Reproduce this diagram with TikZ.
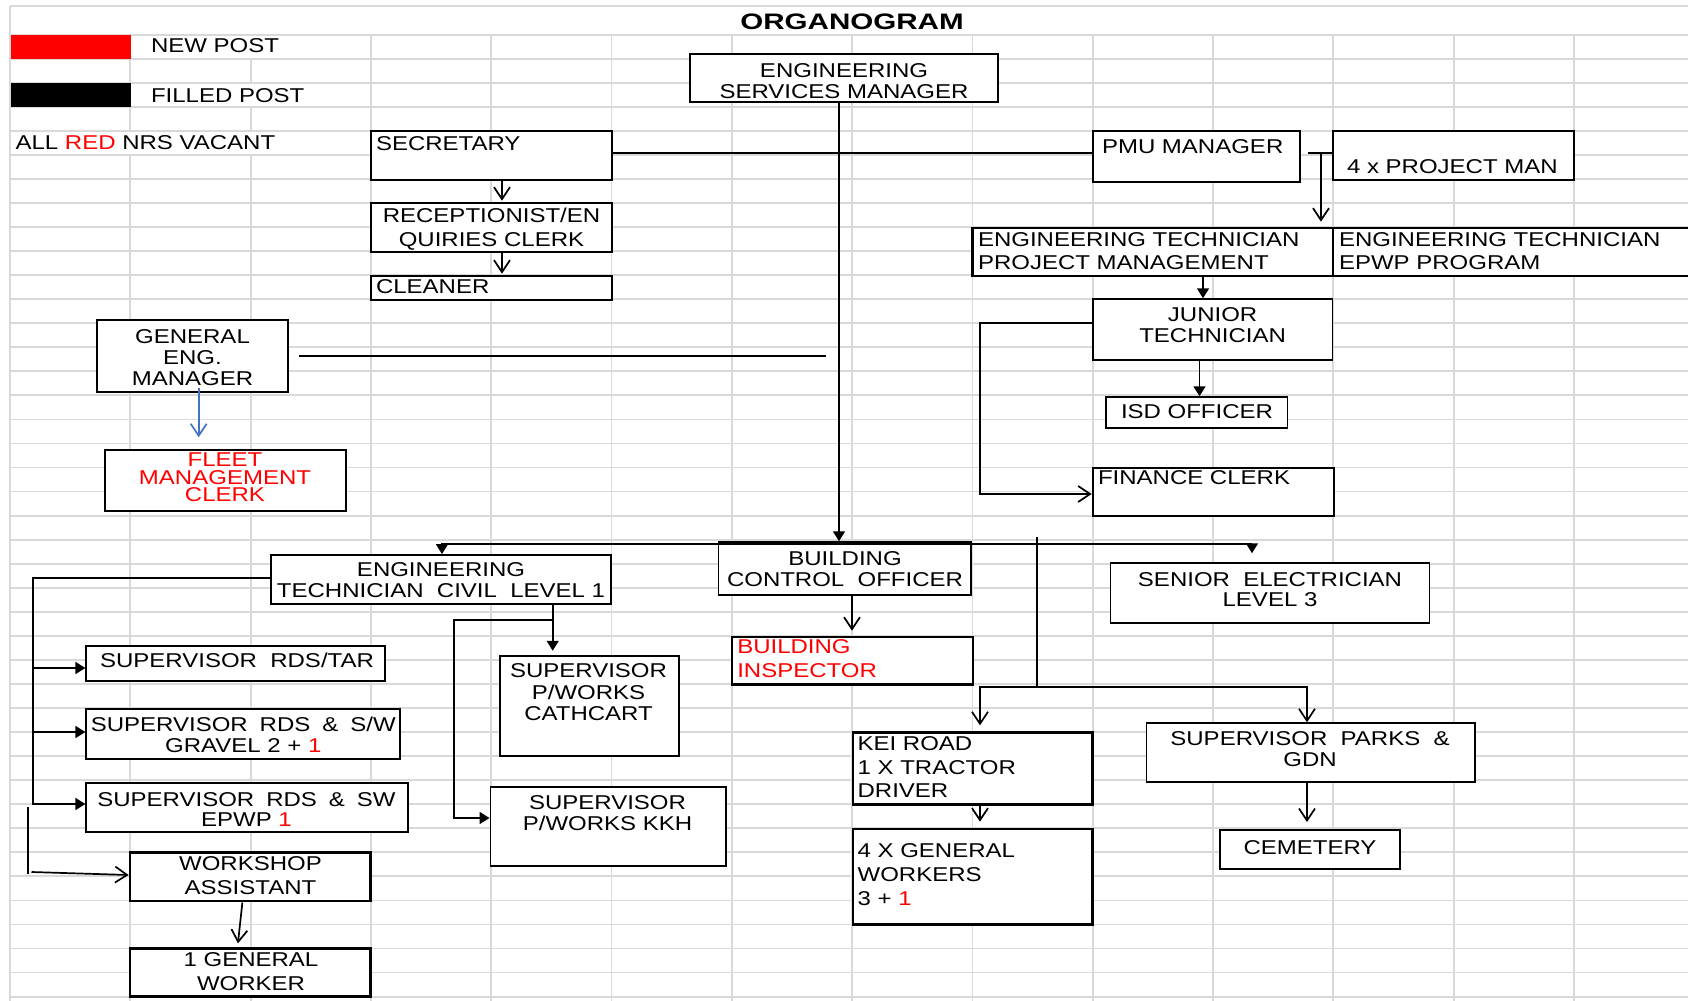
\documentclass[tikz,border=0pt]{standalone}
\usepackage{fontspec}
\setmainfont{Liberation Sans}[FakeStretch=1.2]
\usepackage{graphicx}
\usetikzlibrary{arrows.meta,fit}
\definecolor{gridgray}{RGB}{217,217,217}
\definecolor{postred}{RGB}{255,0,0}
\definecolor{linkblue}{RGB}{68,114,196}
\newcommand\lbfont{\fontsize{10pt}{12pt}\selectfont}
\newcommand\wsp{\hspace{6pt}}
\tikzset{
  gridline/.style={draw=gridgray, line width=0.9pt},
  boxthin/.style={draw, fill=white, line width=0.75pt, inner sep=0pt},
  boxmid/.style={draw, fill=white, line width=0.95pt, inner sep=0pt},
  boxthick/.style={draw, fill=white, line width=1.35pt, inner sep=0pt},
  lbl/.style={inner sep=0pt, outer sep=0pt, font=\lbfont, anchor=base},
  lbll/.style={lbl, anchor=base west},
  redtxt/.style={text=postred},
  link/.style={line width=0.85pt},
  fa/.style={link, -{Triangle[length=5pt,width=6pt]}},
  oa/.style={link, -{Straight Barb[length=6pt,width=8pt]}},
}
\begin{document}
\begin{tikzpicture}[x=0.5pt,y=-0.5pt]
\clip (0,0) rectangle (1688,1001);
\fill[white] (0,0) rectangle (1688,1001);

% spreadsheet grid
\draw[gridline] (10,6) -- (1688,6);
\foreach \k in {0,...,40} {
  \pgfmathsetmacro\yy{34.6+24.05*\k}
  \draw[gridline] (10,\yy) -- (1688,\yy);
}
\draw[gridline] (10,6) -- (10,1001);
\foreach \j in {3,...,13} {
  \pgfmathsetmacro\xx{10+120.3*\j}
  \draw[gridline] (\xx,34.6) -- (\xx,1001);
}
\draw[gridline] (130.3,34.6) -- (130.3,130.8) (130.3,154.85) -- (130.3,1001);
\draw[gridline] (250.6,58.65) -- (250.6,82.7) (250.6,106.75) -- (250.6,130.8)
                (250.6,154.85) -- (250.6,1001);

% legend
\fill[postred] (11,34.6) rectangle (131,59);
\fill[black] (11,82.7) rectangle (131,107);
\node[lbll] (newpost) at (151,53) {NEW POST};
\node[lbll] (filledpost) at (151,102) {FILLED POST};
\node[lbll] (vacant) at (15.6,149) {ALL \textcolor{postred}{RED} NRS VACANT};

% title
\node[lbl, font=\fontsize{11.2pt}{13pt}\selectfont\bfseries] (title) at (852,30)
  {\scalebox{1.1}[1]{ORGANOGRAM}};

% posts
\node[boxthin,  fit={(690,54) (998,102)}] (esm) {};
\node[boxthick, fit={(371,131) (612,180)}] (sec) {};
\node[boxthick, fit={(371,203) (612,252)}] (rec) {};
\node[boxthick, fit={(371,276) (612,300)}] (cln) {};
\node[boxthin,  fit={(1093,131) (1300,182)}] (pmu) {};
\node[boxthick, fit={(1333,131) (1574,180)}] (pm4) {};
\node[boxthick, fit={(972.5,228) (1333,276)}] (etpm) {};
\node[boxthick, fit={(1333,228) (1700,276)}] (etep) {};
\node[boxthin,  fit={(1093,299) (1332.5,360)}] (jun) {};
\node[boxthin,  fit={(1106,397) (1287.5,428)}] (isd) {};
\node[boxthick, fit={(1093,468) (1334,516)}] (fin) {};
\node[boxthin,  fit={(97,320) (288,392)}] (gem) {};
\node[boxthin,  fit={(105,450) (346,511)}] (flt) {};
\node[boxmid,   fit={(271,555) (611,604)}] (etc) {};
\node[boxthin,  fit={(718.6,542) (971,595)}] (bco) {};
\node[boxthin,  fit={(1110.7,563) (1429.6,623)}] (sen) {};
\node[boxthick, fit={(732,637) (973,684.3)}] (bin) {};
\node[boxmid,   fit={(86.3,645.7) (385.3,681)}] (tar) {};
\node[boxmid,   fit={(86.3,709) (400.4,758.7)}] (grv) {};
\node[boxmid,   fit={(86.3,782.7) (408,832)}] (epw) {};
\node[boxthick, fit={(130,852.7) (370.8,901)}] (wsa) {};
\node[boxthick, fit={(130,948.7) (370.8,996.7)}] (gw1) {};
\node[boxmid,   fit={(500,655.7) (678.6,755.7)}] (cat) {};
\node[boxmid,   fit={(490.5,787.3) (725.6,866)}] (kkh) {};
\node[boxthick, fit={(853,732.7) (1092.6,804.3)}] (kei) {};
\node[boxthick, fit={(853,829) (1092.6,924.3)}] (gw4) {};
\node[boxmid,   fit={(1146.5,723.3) (1475,781.7)}] (prk) {};
\node[boxmid,   fit={(1219.8,830) (1400.3,869.3)}] (cem) {};

% reporting lines
\draw[link] (sec.east |- 0,153) -- (pmu.west |- 0,153);
\draw[fa] (839,0 |- esm.south) -- (839,0 |- bco.north);
\draw[oa, shorten >=0.5pt] (502,0 |- sec.south) -- (502,0 |- rec.north);
\draw[oa, shorten >=0.5pt] (502,0 |- rec.south) -- (502,0 |- cln.north);
\draw[link] (pmu.east |- 0,153) ++(7,0) -- (pm4.west |- 0,153);
\coordinate (pmuknot) at (1321,153);
\draw[oa, shorten >=2.5pt] (pmuknot) -- (pmuknot |- etpm.north);
\draw[fa] (1203,0 |- etpm.south) -- (1203,0 |- jun.north);
\draw[fa] (1199.5,0 |- jun.south) -- (1199.5,0 |- isd.north);
\draw[oa] (jun.west |- 0,323) -| (980,494) -- (fin.west |- 0,494);
\draw[link] ([xshift=5pt]gem.east) -- ++(527,0);
\draw[link, draw=linkblue, -{Straight Barb[length=6pt,width=8pt]}, shorten >=6pt]
  ([yshift=2.5pt]198.7,0 |- gem.south) -- (198.7,0 |- flt.north);
\draw[link, {Triangle[length=5pt,width=6pt]}-{Triangle[length=5pt,width=6pt]}, shorten >=4.5pt]
  (442,0 |- etc.north) |- (1252,544) -- (1252,0 |- sen.north);
\draw[oa, shorten >=2.5pt] (852,0 |- bco.south) -- (852,0 |- bin.north);
\coordinate (hubtop) at (1037,537);
\coordinate (hub) at (1037,687);
\draw[link] (hubtop) -- (hub);
\draw[oa, shorten >=3pt] (hub) -| (980,0 |- kei.north);
\draw[oa] (hub) -| (1307,0 |- prk.north);
\draw[oa, shorten >=3pt] (980,0 |- kei.south) -- (980,0 |- gw4.north);
\draw[oa, shorten >=3.5pt] (1307,0 |- prk.south) -- (1307,0 |- cem.north);
\draw[fa] (etc.west |- 0,577.7) -- (33,577.7) -- (33,804) -- (epw.west |- 0,804);
\draw[fa] (33,668) -- (tar.west |- 0,668);
\draw[fa] (33,732) -- (grv.west |- 0,732);
\coordinate (wsatop) at (28,807);
\draw[link] (wsatop) -- ++(0,67);
\draw[oa] (31.5,872) -- (wsa.west |- 0,875);
\draw[fa, shorten >=2pt] (552.7,0 |- etc.south) -- (552.7,0 |- cat.north);
\draw[fa] (552.7,620) -| (454,818) -- (kkh.west |- 0,818);
\draw[oa, shorten >=2pt] (242.4,0 |- wsa.south) -- (237.5,0 |- gw1.north);

% texts
\node[lbl] (esm-a) at (844,77) {ENGINEERING};
\node[lbl] (esm-b) at (844,98) {SERVICES MANAGER};
\node[lbll] (sec-a) at (376,150) {SECRETARY};
\node[lbl] (rec-a) at (491.5,222) {RECEPTIONIST/EN};
\node[lbl] (rec-b) at (491.5,246) {QUIRIES CLERK};
\node[lbll] (cln-a) at (376,293) {CLEANER};
\node[lbll] (pmu-a) at (1102,153) {PMU MANAGER};
\node[lbll] (pm4-a) at (1347,173) {4 x PROJECT MAN};
\node[lbll] (etpm-a) at (978,246) {ENGINEERING TECHNICIAN};
\node[lbll] (etpm-b) at (978,269) {PROJECT MANAGEMENT};
\node[lbll] (etep-a) at (1339,246) {ENGINEERING TECHNICIAN};
\node[lbll] (etep-b) at (1339,269) {EPWP PROGRAM};
\node[lbl] (jun-a) at (1212.6,321.7) {JUNIOR};
\node[lbl] (jun-b) at (1212.6,342) {TECHNICIAN};
\node[lbl] (isd-a) at (1197,418) {ISD OFFICER};
\node[lbll] (fin-a) at (1098,484) {FINANCE CLERK};
\node[lbl] (gem-a) at (192.5,343) {GENERAL};
\node[lbl] (gem-b) at (192.5,364) {ENG.};
\node[lbl] (gem-c) at (192.5,385) {MANAGER};
\node[lbl, redtxt] (flt-a) at (225,466.7) {FLEET};
\node[lbl, redtxt] (flt-b) at (225,484) {MANAGEMENT};
\node[lbl, redtxt] (flt-c) at (225,501) {CLERK};
\node[lbl] (etc-a) at (441,576.7) {ENGINEERING};
\node[lbl] (etc-b) at (441,597.7) {TECHNICIAN~ CIVIL~ LEVEL 1};
\node[lbl] (bco-a) at (845,565) {BUILDING};
\node[lbl] (bco-b) at (845,586) {CONTROL~ OFFICER};
\node[lbl] (sen-a) at (1270,586) {SENIOR~ ELECTRICIAN};
\node[lbl] (sen-b) at (1270,606.7) {LEVEL 3};
\node[lbll, redtxt] (bin-a) at (737.3,653.3) {BUILDING};
\node[lbll, redtxt] (bin-b) at (737.3,677.7) {INSPECTOR};
\node[lbl] (tar-a) at (237,667.7) {SUPERVISOR~ RDS/TAR};
\node[lbl] (grv-a) at (243.3,731) {SUPERVISOR\wsp RDS\wsp\&\wsp S/W};
\node[lbl] (grv-b) at (243.3,752.7) {GRAVEL 2 + \textcolor{postred}{1}};
\node[lbl] (epw-a) at (246.5,806) {SUPERVISOR\wsp RDS\wsp\&\wsp SW};
\node[lbl] (epw-b) at (246.5,826.7) {EPWP \textcolor{postred}{1}};
\node[lbl] (wsa-a) at (250.5,870) {WORKSHOP};
\node[lbl] (wsa-b) at (250.5,894) {ASSISTANT};
\node[lbl] (gw1-a) at (251,966.7) {1 GENERAL};
\node[lbl] (gw1-b) at (251,990.7) {WORKER};
\node[lbl] (cat-a) at (588.5,677.7) {SUPERVISOR};
\node[lbl] (cat-b) at (588.5,699) {P/WORKS};
\node[lbl] (cat-c) at (588.5,720) {CATHCART};
\node[lbl] (kkh-a) at (607.5,809) {SUPERVISOR};
\node[lbl] (kkh-b) at (607.5,830) {P/WORKS KKH};
\node[lbll] (kei-a) at (857.6,750) {KEI ROAD};
\node[lbll] (kei-b) at (857.6,774) {1 X TRACTOR};
\node[lbll] (kei-c) at (857.6,797.3) {DRIVER};
\node[lbll] (gw4-a) at (857.6,857.7) {4 X GENERAL};
\node[lbll] (gw4-b) at (857.6,881.7) {WORKERS};
\node[lbll] (gw4-c) at (857.6,905) {3 + \textcolor{postred}{1}};
\node[lbl] (prk-a) at (1310,745.7) {SUPERVISOR~ PARKS~ \&};
\node[lbl] (prk-b) at (1310,766.7) {GDN};
\node[lbl] (cem-a) at (1310,854) {CEMETERY};
\end{tikzpicture}
\end{document}
